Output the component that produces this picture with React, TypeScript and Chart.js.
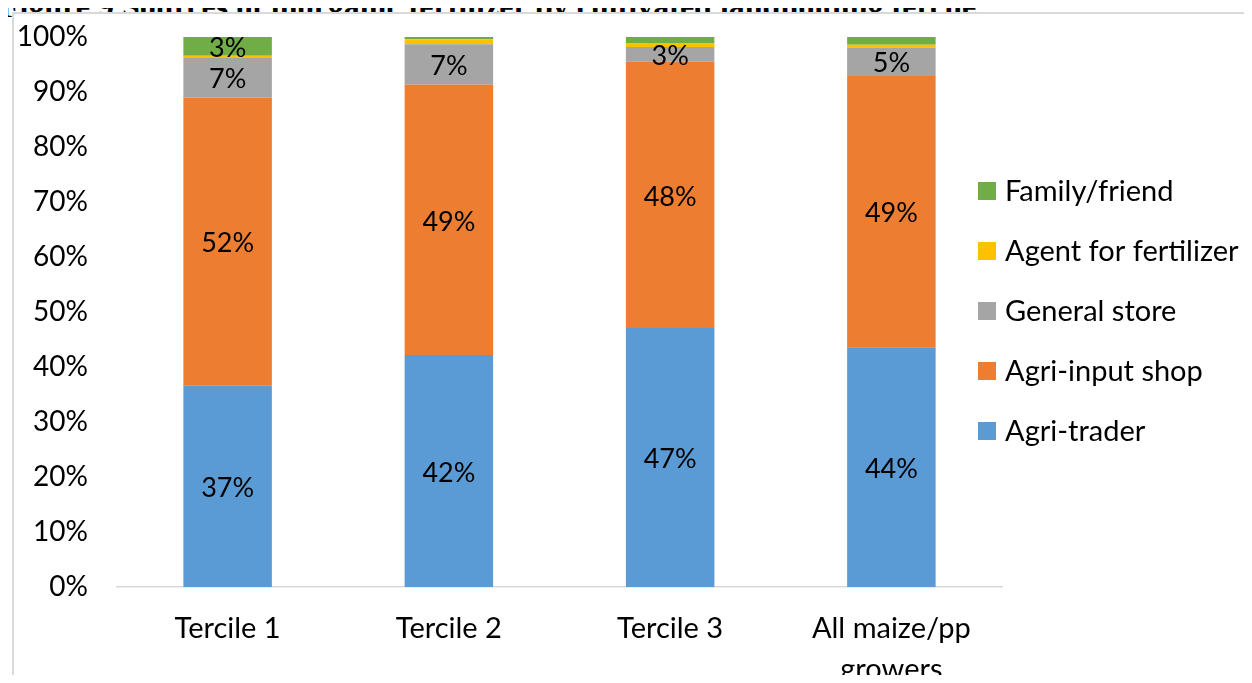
import React, { useEffect, useRef } from "react";
import { Chart, registerables } from "chart.js";

Chart.register(...registerables);

const categories: (string | string[])[] = ["Tercile 1", "Tercile 2", "Tercile 3", ["All maize/pp", "growers"]];
const agriTrader = [36.6, 42.2, 47.1, 43.6];
const agriInputShop = [52.4, 49.1, 48.4, 49.3];
const generalStore = [7.2, 7.4, 2.7, 5.2];
const agentForFertilizer = [0.4, 0.9, 0.7, 0.5];
const familyFriend = [3.4, 0.4, 1.1, 1.4];
const seriesNames = ["Agri-trader", "Agri-input shop", "General store", "Agent for fertilizer", "Family/friend"];
const seriesColors = ["#5B9BD5", "#ED7D31", "#A5A5A5", "#FFC000", "#70AD47"];
const yTicks = [0, 10, 20, 30, 40, 50, 60, 70, 80, 90, 100];

const FONT = "Lato, 'Noto Sans', sans-serif";

const labelPlugin = {
  id: "segLabels",
  afterDatasetsDraw(chart: any) {
    const ctx = chart.ctx;
    ctx.save();
    ctx.font = `27px ${FONT}`;
    ctx.fillStyle = "#000";
    ctx.textAlign = "center";
    ctx.textBaseline = "middle";
    chart.data.datasets.forEach((ds: any, di: number) => {
      const meta = chart.getDatasetMeta(di);
      meta.data.forEach((bar: any, i: number) => {
        const v = ds.data[i];
        if (v < 2) return;
        const { x, y, base } = bar.getProps(["x", "y", "base"], true);
        ctx.fillText(Math.round(v) + "%", x, (y + base) / 2 + 2);
      });
    });
    ctx.restore();
  },
};

const legendPlugin = {
  id: "sideLegend",
  afterDraw(chart: any) {
    const ctx = chart.ctx;
    const area = chart.chartArea;
    const x0 = area.right - 24;
    const y0 = 177;
    ctx.save();
    ctx.font = `29px ${FONT}`;
    ctx.textBaseline = "middle";
    ctx.textAlign = "left";
    const n = chart.data.datasets.length;
    for (let k = 0; k < n; k++) {
      const ds = chart.data.datasets[n - 1 - k];
      const cy = y0 + k * 60;
      ctx.fillStyle = ds.backgroundColor;
      ctx.fillRect(x0, cy - 9, 18, 18);
      ctx.fillStyle = "#000";
      ctx.fillText(ds.label, x0 + 27, cy + 1);
    }
    ctx.restore();
  },
};

export default function App() {
  const ref = useRef<HTMLCanvasElement>(null);
  useEffect(() => {
    const values = [agriTrader, agriInputShop, generalStore, agentForFertilizer, familyFriend];
    const chart = new Chart(ref.current!, {
      type: "bar",
      data: {
        labels: categories,
        datasets: values.map((d, i) => ({
          label: seriesNames[i],
          data: d,
          backgroundColor: seriesColors[i],
          borderWidth: 0,
          barPercentage: 0.4,
          categoryPercentage: 1,
        })),
      },
      options: {
        animation: false,
        responsive: false,
        maintainAspectRatio: false,
        layout: { padding: { left: 0, right: 250, top: 23, bottom: 0 } },
        plugins: { legend: { display: false }, tooltip: { enabled: false }, title: { display: false } },
        scales: {
          x: {
            stacked: true,
            grid: { display: false, drawTicks: false },
            border: { display: true, color: "#d9d9d9", width: 1.5 },
            ticks: { color: "#000", font: { family: FONT, size: 29, lineHeight: 1.42 }, padding: 21, maxRotation: 0 },
            afterFit: (s: any) => { s.height = 96; s.paddingLeft = 0; s.paddingRight = 0; },
          },
          y: {
            stacked: true,
            min: 0,
            max: 100,
            afterBuildTicks: (s: any) => { s.ticks = yTicks.map((v) => ({ value: v })); },
            grid: { display: false, drawTicks: false },
            border: { display: false },
            ticks: { color: "#000", font: { family: FONT, size: 28 }, padding: 29, callback: (v: any) => v + "%" },
            afterFit: (s: any) => { s.width = 103; s.paddingTop = 0; s.paddingBottom = 0; },
          },
        },
      },
      plugins: [labelPlugin, legendPlugin],
    });
    return () => chart.destroy();
  }, []);

  return (
    <div style={{ position: "relative", margin: -8, width: 1252, height: 683, overflow: "hidden", background: "#fff" }}>
      <div
        style={{
          position: "absolute",
          left: 0,
          top: -10,
          whiteSpace: "nowrap",
          fontFamily: "'Liberation Serif', 'Times New Roman', serif",
          fontWeight: "bold",
          fontSize: 32,
          lineHeight: "32px",
          color: "#000",
        }}
      >
        Figure 9 Sources of inorganic fertilizer by cultivated landholding tercile
      </div>
      <div
        style={{
          position: "absolute",
          left: 12,
          top: 12,
          width: 1260,
          height: 690,
          border: "2px solid #d9d9d9",
          background: "#fff",
        }}
      >
        <canvas ref={ref} width={1238} height={669} style={{ display: "block" }} />
      </div>
    </div>
  );
}
